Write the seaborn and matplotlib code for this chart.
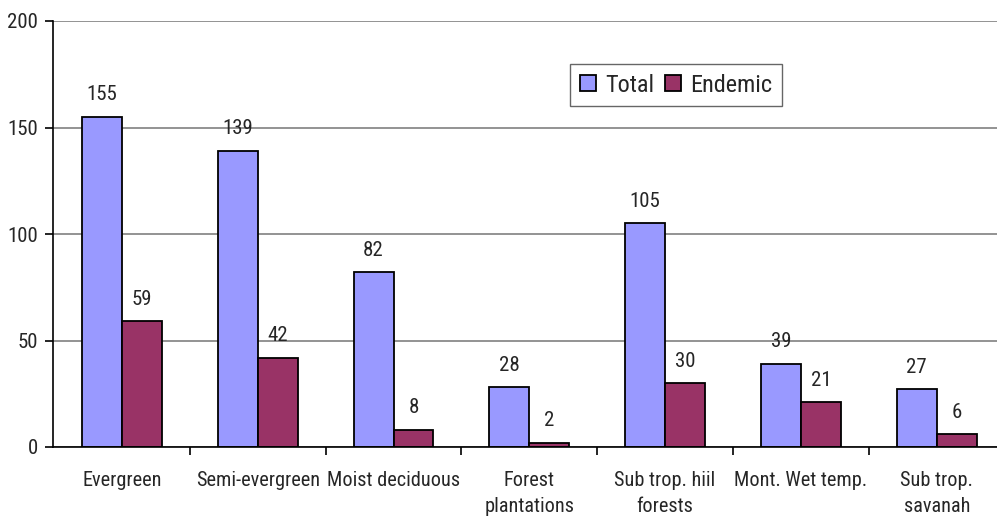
import matplotlib
matplotlib.use("Agg")
import matplotlib.pyplot as plt
from matplotlib.ticker import FixedLocator, NullFormatter
import seaborn as sns
import pandas as pd

categories = ["Evergreen", "Semi-evergreen", "Moist deciduous", "Forest\nplantations",
              "Sub trop. hiil\nforests", "Mont. Wet temp.", "Sub trop.\nsavanah"]
total = [155, 139, 82, 28, 105, 39, 27]
endemic = [59, 42, 8, 2, 30, 21, 6]
series = ["Total", "Endemic"]
palette = {"Total": "#9999FF", "Endemic": "#993366"}

df = pd.DataFrame({
    "category": categories * 2,
    "series": ["Total"] * len(categories) + ["Endemic"] * len(categories),
    "value": total + endemic,
})

sns.set_style("white")
plt.rcParams["font.family"] = ["Roboto Condensed", "DejaVu Sans"]

fig = plt.figure(figsize=(9.97, 5.20), dpi=100)
# plot area: left spine at x=53px, category slots ~135.8px wide running past the right edge
cat_px = 135.8
right_px = 54 + cat_px * len(categories)
ax = fig.add_axes([53 / 997, 1 - 447 / 520, (right_px - 53) / 997, (447 - 21) / 520])

sns.barplot(data=df, x="category", y="value", hue="series", hue_order=series,
            palette=palette, order=categories, width=0.589, dodge=True,
            edgecolor="black", linewidth=1.3, saturation=1, ax=ax, legend=True)

ax.set_xlim(-0.5 - 1 / cat_px, len(categories) - 0.5)
ax.set_ylim(0, 200)
ax.set_yticks([0, 50, 100, 150, 200])
ax.yaxis.grid(True, color="#808080", linewidth=1.2)
ax.set_axisbelow(True)
ax.set_xlabel("")
ax.set_ylabel("")

for side in ["top", "right"]:
    ax.spines[side].set_visible(False)
for side in ["left", "bottom"]:
    ax.spines[side].set_color("black")
    ax.spines[side].set_linewidth(1.2)

ax.tick_params(axis="y", which="major", direction="out", length=6, width=1.2,
               color="black", labelsize=15, pad=5, left=True)
ax.tick_params(axis="x", which="major", length=0, labelsize=14.6, pad=17)
ax.set_xticks(range(len(categories)))
ax.set_xticklabels(categories, linespacing=1.5)
ax.xaxis.set_minor_locator(FixedLocator([i + 0.5 for i in range(len(categories) - 1)]))
ax.xaxis.set_minor_formatter(NullFormatter())
ax.tick_params(axis="x", which="minor", direction="out", length=6, width=1.2,
               color="black", bottom=True)

for container in ax.containers:
    ax.bar_label(container, padding=9, fontsize=15)

leg = ax.legend(loc="center", bbox_to_anchor=(676 / 997, 1 - 85 / 520),
                bbox_transform=fig.transFigure, ncol=2, fontsize=17.5,
                frameon=True, fancybox=False, handlelength=0.67, handleheight=0.67,
                handletextpad=0.37, columnspacing=0.45, borderpad=0.4,
                borderaxespad=0)
leg.get_frame().set_edgecolor("#404040")
leg.get_frame().set_linewidth(1.0)

fig.savefig("out.png", dpi=100)
